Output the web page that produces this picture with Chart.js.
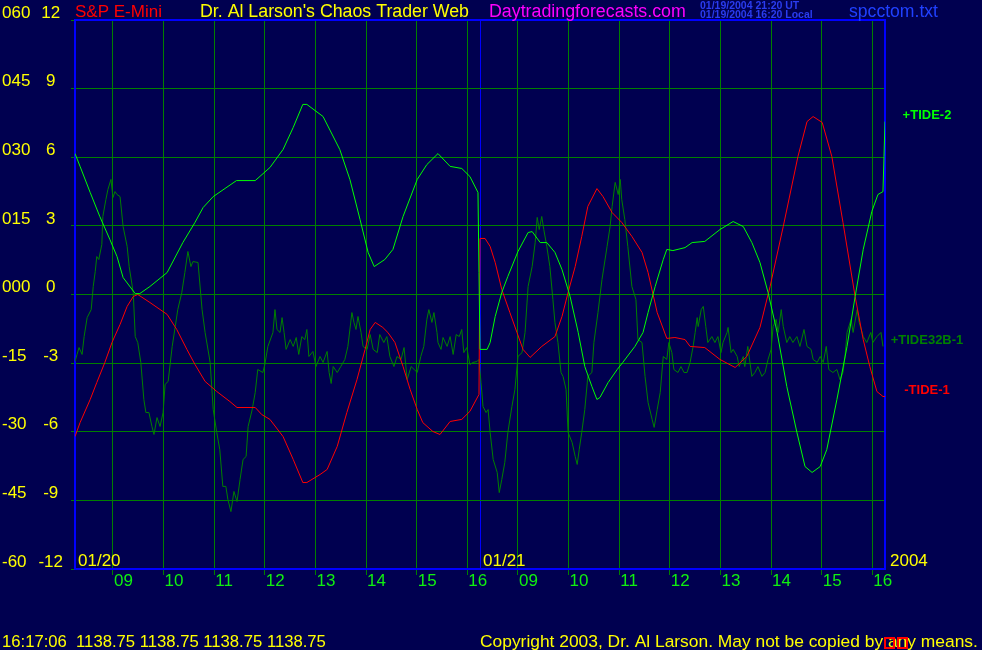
<!DOCTYPE html>
<html>
<head>
<meta charset="utf-8">
<title>S&amp;P E-Mini tides</title>
<script src="https://cdn.jsdelivr.net/npm/chart.js@4.4.0/dist/chart.umd.min.js"></script>
<style>
  html, body { margin: 0; padding: 0; background: #000050; }
  canvas { display: block; }
</style>
</head>
<body>
<canvas id="tideChart" width="982" height="650"></canvas>
<script>
// hours counted from 08:15 on 01/20 (0..8) and 01/21 (8..16)
const hourTicks = [0.75, 1.75, 2.75, 3.75, 4.75, 5.75, 6.75, 7.75, 8, 8.75, 9.75, 10.75, 11.75, 12.75, 13.75, 14.75, 15.75];
const hourLabels = ['09', '10', '11', '12', '13', '14', '15', '16', '', '09', '10', '11', '12', '13', '14', '15', '16'];
const dayStarts = [0, 8];
const dayLabels = ['01/20', '01/21'];
const yearLabel = '2004';

//] +TIDE-2
const tide2Hours = [0, 0.10, 0.30, 0.49, 0.69, 0.83, 0.95, 1.19, 1.28, 1.48, 1.82, 2.13, 2.37, 2.53, 2.73, 3.19, 3.56, 3.85, 4.11, 4.31,
  4.50, 4.58, 4.90, 5.23, 5.43, 5.63, 5.79, 5.91, 6.12, 6.28, 6.48, 6.76, 6.95, 7.17, 7.41, 7.64, 7.80, 7.96, 7.98, 8.00,
  8.14, 8.20, 8.30, 8.43, 8.55, 8.75, 8.95, 9.03, 9.19, 9.32, 9.48, 9.62, 9.78, 9.94, 10.07, 10.21, 10.31, 10.37, 10.53, 10.71,
  10.82, 11.06, 11.22, 11.32, 11.46, 11.62, 11.69, 11.81, 12.05, 12.19, 12.44, 12.74, 13.00, 13.20, 13.37, 13.53, 13.69, 13.87, 14.06, 14.26,
  14.42, 14.56, 14.72, 14.85, 15.05, 15.25, 15.41, 15.57, 15.74, 15.86, 15.96, 15.98, 16.00];
const tide2Values = [6.16, 5.60, 4.46, 3.41, 2.40, 1.66, 0.74, 0.04, 0.04, 0.35, 0.96, 2.27, 3.15, 3.80, 4.28, 4.98, 4.98, 5.55, 6.34, 7.30,
  8.31, 8.31, 7.78, 6.34, 5.03, 3.28, 1.84, 1.22, 1.53, 1.97, 3.41, 5.03, 5.68, 6.16, 5.60, 5.51, 5.16, 4.46, 0.96, -2.40,
  -2.40, -2.10, -0.96, 0.09, 0.79, 1.88, 2.71, 2.75, 2.27, 2.27, 1.84, 1.09, -0.09, -1.66, -3.15, -4.02, -4.59, -4.50, -3.85, -3.28,
  -2.97, -2.27, -1.66, -0.79, 0.35, 1.53, 1.97, 1.92, 2.05, 2.27, 2.32, 2.84, 3.19, 2.97, 2.27, 1.40, 0.09, -1.66, -4.02, -6.03,
  -7.52, -7.78, -7.52, -6.78, -4.59, -2.27, -0.09, 1.97, 3.63, 4.37, 4.50, 6.03, 7.56];

//] -TIDE-1
const tide1Hours = [0, 0.10, 0.30, 0.43, 0.59, 0.73, 0.89, 1.03, 1.15, 1.24, 1.48, 1.82, 2.01, 2.21, 2.37, 2.57, 2.80, 3.06, 3.20, 3.56,
  3.69, 3.85, 4.11, 4.31, 4.50, 4.58, 4.84, 4.98, 5.18, 5.37, 5.57, 5.73, 5.83, 5.93, 6.08, 6.18, 6.32, 6.48, 6.62, 6.76,
  6.87, 7.07, 7.21, 7.41, 7.64, 7.80, 7.98, 8.00, 8.10, 8.20, 8.30, 8.43, 8.59, 8.73, 8.85, 8.99, 9.22, 9.48, 9.62, 9.74,
  9.88, 10.01, 10.13, 10.31, 10.43, 10.61, 10.80, 11.00, 11.20, 11.32, 11.50, 11.69, 11.85, 12.05, 12.15, 12.44, 12.74, 13.04, 13.27, 13.53,
  13.73, 13.99, 14.28, 14.46, 14.58, 14.76, 14.95, 15.17, 15.41, 15.57, 15.70, 15.84, 15.96, 16.00];
const tide1Values = [-6.21, -5.60, -4.59, -3.85, -2.97, -2.10, -1.31, -0.52, -0.09, 0, -0.35, -0.87, -1.53, -2.40, -3.06, -3.80, -4.24, -4.68, -4.94, -4.94,
  -5.25, -5.46, -6.21, -7.21, -8.22, -8.22, -7.87, -7.65, -6.64, -5.16, -3.72, -2.40, -1.53, -1.22, -1.44, -1.66, -2.10, -3.15, -4.15, -5.03,
  -5.60, -5.99, -6.12, -5.55, -5.46, -5.11, -4.37, 2.45, 2.45, 2.10, 1.40, 0.22, -0.79, -1.66, -2.40, -2.75, -2.27, -1.84, -0.96, 0.09,
  1.22, 2.54, 3.85, 4.63, 4.28, 3.58, 3.15, 2.54, 1.84, 0.96, -0.79, -1.92, -1.88, -1.97, -2.27, -2.32, -2.84, -3.19, -2.71, -1.44,
  0.35, 2.97, 6.03, 7.56, 7.78, 7.52, 6.03, 3.15, -0.09, -1.97, -3.15, -4.24, -4.46, -4.46];

//] +TIDE32B-1
const tide32Hours = [0, 0.04, 0.08, 0.14, 0.18, 0.24, 0.32, 0.36, 0.40, 0.43, 0.47, 0.53, 0.55, 0.61, 0.65, 0.71, 0.75, 0.79, 0.83, 0.89,
  0.95, 1.03, 1.07, 1.15, 1.19, 1.24, 1.30, 1.36, 1.40, 1.46, 1.52, 1.56, 1.62, 1.68, 1.74, 1.78, 1.84, 1.92, 1.98, 2.03,
  2.11, 2.17, 2.23, 2.29, 2.33, 2.43, 2.51, 2.57, 2.67, 2.73, 2.80, 2.86, 2.92, 2.98, 3.02, 3.08, 3.14, 3.20, 3.26, 3.32,
  3.38, 3.42, 3.50, 3.56, 3.61, 3.71, 3.75, 3.81,
  3.91, 3.95, 3.99, 4.05, 4.09, 4.13, 4.17, 4.25, 4.31, 4.37, 4.42, 4.48, 4.54, 4.58, 4.62, 4.70, 4.76, 4.84, 4.90, 4.98,
  5.02, 5.06, 5.10, 5.18, 5.25, 5.33, 5.39, 5.47, 5.51, 5.55, 5.59, 5.65, 5.69, 5.77, 5.83, 5.89, 5.97, 6.02, 6.10, 6.16,
  6.22, 6.30, 6.36, 6.44, 6.50, 6.56, 6.64, 6.70, 6.76, 6.83, 6.89, 6.95, 6.99, 7.05, 7.09, 7.15, 7.17, 7.23, 7.27, 7.35,
  7.41, 7.47, 7.53, 7.59, 7.64, 7.68, 7.74, 7.80, 7.86, 7.94, 7.98,
  8.02, 8.06, 8.12, 8.16, 8.20, 8.26, 8.34, 8.38, 8.43, 8.49, 8.55, 8.63, 8.69, 8.75, 8.83, 8.89, 8.95, 9.03, 9.09, 9.13,
  9.17, 9.22, 9.26, 9.32, 9.38, 9.44, 9.48, 9.54, 9.60, 9.64, 9.70, 9.74, 9.82, 9.88, 9.92, 9.96, 10.01, 10.07, 10.13, 10.21,
  10.25, 10.33, 10.41, 10.51, 10.57, 10.61, 10.67, 10.73, 10.77, 10.80, 10.86, 10.92, 11.00, 11.08, 11.12, 11.20, 11.26, 11.32, 11.40, 11.44,
  11.50, 11.56, 11.62, 11.69, 11.73, 11.79, 11.83, 11.91, 11.97, 12.03,
  12.09, 12.15, 12.21, 12.25, 12.29, 12.31, 12.37, 12.41, 12.46, 12.50, 12.58, 12.64, 12.70, 12.76, 12.80, 12.88, 12.90, 12.96, 13.00, 13.08,
  13.12, 13.20, 13.23, 13.29, 13.37, 13.43, 13.49, 13.57, 13.63, 13.69, 13.75, 13.79, 13.85, 13.89, 13.95, 13.99, 14.06, 14.12, 14.18, 14.26,
  14.32, 14.40, 14.46, 14.54, 14.58, 14.66, 14.72, 14.78, 14.84, 14.89, 14.97, 15.05, 15.11, 15.17, 15.21, 15.25, 15.33, 15.37, 15.45, 15.49,
  15.57, 15.64, 15.72, 15.76, 15.84, 15.92, 15.96];
const tide32Values = [-2.93, -2.62, -2.32, -2.62, -1.84, -1.01, -0.66, 0.35, 1.01, 1.66, 1.53, 2.19, 3.41, 4.15, 4.59, 5.03, 4.24, 4.50, 4.37, 4.28,
  2.97, 2.10, 1.22, 0.09, -1.84, -2.10, -2.97, -4.59, -5.16, -5.16, -5.77, -6.12, -5.38, -5.77, -5.16, -3.93, -3.80, -2.27, -1.40, -0.66,
  0.09, 0.96, 1.88, 1.22, 1.44, 1.40, -0.66, -1.66, -2.97, -5.03, -6.03, -6.78, -8.39, -8.39, -8.96, -9.49, -8.61, -9.05, -8.09, -7.21,
  -7.08, -5.77, -5.03, -4.28, -3.28, -3.41, -3.06, -2.27,
  -1.66, -0.66, -1.53, -1.66, -1.01, -1.66, -2.40, -1.97, -2.27, -1.88, -2.62, -1.84, -1.97, -1.53, -2.71, -2.49, -3.15, -2.71, -2.97, -2.49,
  -3.41, -3.89, -3.15, -3.41, -3.15, -2.84, -2.27, -0.79, -1.22, -1.53, -0.96, -1.66, -2.27, -2.40, -1.75, -2.40, -2.54, -1.75, -2.10, -1.84,
  -2.71, -3.15, -2.71, -2.84, -2.32, -3.72, -3.15, -3.28, -3.41, -2.71, -2.27, -1.09, -0.66, -1.22, -0.79, -1.66, -2.10, -2.40, -1.88, -2.27,
  -1.84, -2.62, -1.75, -1.84, -1.53, -2.54, -2.32, -3.06, -2.97, -2.93, -2.84,
  -3.85, -4.90, -5.16, -5.03, -6.03, -7.21, -7.78, -8.66, -8.09, -7.34, -6.03, -4.90, -4.15, -2.71, -2.54, -1.66, 0.35, 1.22, 2.27, 3.37,
  2.84, 3.41, 2.84, 2.10, 1.22, -0.22, -1.22, -2.10, -3.41, -3.58, -4.15, -6.03, -6.47, -7.08, -7.43, -6.78, -6.03, -5.03, -3.58, -3.41,
  -2.10, -0.79, 0.66, 2.10, 2.97, 3.85, 4.90, 4.37, 5.03, 4.15, 3.28, 2.10, 0.35, -0.22, -1.97, -2.10, -3.58, -4.72, -5.46, -5.81,
  -5.03, -4.28, -2.71, -2.84, -2.10, -2.54, -3.28, -3.41, -3.15, -3.41,
  -3.41, -2.97, -2.27, -1.66, -1.01, -1.40, -0.66, -0.52, -1.40, -2.10, -1.84, -2.10, -1.84, -2.54, -2.10, -1.66, -1.44, -2.54, -2.40, -2.71,
  -3.15, -2.71, -3.15, -2.27, -3.58, -3.41, -3.15, -3.58, -3.41, -2.84, -2.40, -1.40, -1.09, -1.66, -0.66, -1.40, -2.10, -1.84, -2.10, -1.84,
  -2.27, -1.53, -2.27, -2.40, -2.84, -2.97, -2.71, -2.97, -2.27, -3.28, -3.41, -3.28, -3.72, -3.41, -2.71, -1.66, -1.09, -1.66, -0.66, -1.22,
  -1.84, -2.10, -1.66, -2.10, -1.84, -1.66, -2.27];

const FONT = '"Liberation Sans", Arial, sans-serif';
const GRID_GREEN = '#008000';

function toPoints(hours, values) {
  return hours.map((h, i) => ({ x: h, y: values[i] }));
}

// 글자 폭을 원본에 맞춰서 그리기
function fitText(c, text, x, y, width, size) {
  c.font = size + 'px ' + FONT;
  const w = c.measureText(text).width;
  c.font = (size * width / w).toFixed(2) + 'px ' + FONT;
  c.fillText(text, x, y);
}

const seriesList = [
  { label: '+TIDE-2', hours: tide2Hours, values: tide2Values, color: '#00ff00', order: 1 },
  { label: '-TIDE-1', hours: tide1Hours, values: tide1Values, color: '#ff0000', order: 2 },
  { label: '+TIDE32B-1', hours: tide32Hours, values: tide32Values, color: '#008000', order: 3 },
];

// 배경, 테두리, 머리글과 꼬리글
const chartDecor = {
  id: 'chartDecor',
  beforeDraw(chart) {
    const { ctx, width, height } = chart;
    ctx.save();
    ctx.fillStyle = '#000050';
    ctx.fillRect(0, 0, width, height);
    ctx.restore();
  },
  beforeDatasetsDraw(chart) {
    const { ctx, chartArea: a } = chart;
    ctx.save();
    ctx.strokeStyle = '#0000ff';
    ctx.lineWidth = 2;
    ctx.strokeRect(a.left, a.top, a.right - a.left, a.bottom - a.top);
    ctx.restore();
  },
  afterDraw(chart) {
    const { ctx, chartArea: a } = chart;
    const xs = chart.scales.x;
    const ys = chart.scales.y;
    ctx.save();
    ctx.textBaseline = 'alphabetic';
    ctx.textAlign = 'left';

    ctx.fillStyle = '#ff0000';
    fitText(ctx, 'S&P E-Mini', 75, 17, 87, 17);
    ctx.fillStyle = '#ffff00';
    fitText(ctx, "Dr. Al Larson's Chaos Trader Web", 200, 17, 269, 17);
    ctx.fillStyle = '#ff00ff';
    fitText(ctx, 'Daytradingforecasts.com', 489, 17, 197, 17);
    ctx.fillStyle = '#2040ff';
    fitText(ctx, 'spcctom.txt', 849, 17, 89, 17);

    ctx.font = 'bold 10.5px ' + FONT;
    ctx.fillStyle = '#2a3cf0';
    ctx.fillText('01/19/2004 21:20 UT', 700, 9);
    ctx.fillText('01/19/2004 16:20 Local', 700, 18);

    // day labels inside the plot
    ctx.font = '17px ' + FONT;
    ctx.fillStyle = '#ffff00';
    dayStarts.forEach((d, i) => {
      ctx.fillText(dayLabels[i], xs.getPixelForValue(d) + 3, a.bottom - 3);
    });
    ctx.fillText(yearLabel, a.right + 5, a.bottom - 3);

    // series names at the last value
    ctx.font = 'bold 13px ' + FONT;
    ctx.textAlign = 'center';
    ctx.textBaseline = 'middle';
    seriesList.forEach((s) => {
      ctx.fillStyle = s.color;
      ctx.fillText(s.label, 927, ys.getPixelForValue(s.values[s.values.length - 1]) - 6);
    });

    // status line
    ctx.textAlign = 'left';
    ctx.textBaseline = 'alphabetic';
    ctx.fillStyle = '#ffff00';
    fitText(ctx, '16:17:06  1138.75 1138.75 1138.75 1138.75', 2, 647, 324, 17);
    fitText(ctx, 'Copyright 2003, Dr. Al Larson. May not be copied by any means.', 480, 647, 498, 17);
    ctx.strokeStyle = '#ff0000';
    ctx.lineWidth = 2;
    ctx.strokeRect(885, 638, 9, 10);
    ctx.strokeRect(898, 638, 9, 10);
    ctx.restore();
  },
};

const ctx = document.getElementById('tideChart');

new Chart(ctx, {
  type: 'line',
  data: {
    datasets: seriesList.map((s) => ({
      label: s.label,
      data: toPoints(s.hours, s.values),
      borderColor: s.color,
      borderWidth: 1,
      pointRadius: 0,
      tension: 0,
      fill: false,
      order: s.order,
    })),
  },
  options: {
    responsive: false,
    devicePixelRatio: 1,
    animation: false,
    events: [],
    layout: { padding: { left: 2, right: 97, top: 20, bottom: 56 } },
    plugins: { legend: { display: false }, tooltip: { enabled: false } },
    scales: {
      x: {
        type: 'linear',
        min: 0,
        max: 16,
        afterBuildTicks: (scale) => {
          scale.ticks = hourTicks.map((v) => ({ value: v }));
        },
        afterFit: (scale) => {
          scale.height = 25;
        },
        grid: {
          color: (c) => (c.tick && c.tick.value === 8 ? '#0000ff' : GRID_GREEN),
          tickColor: (c) => (c.tick && c.tick.value === 8 ? 'rgba(0,0,0,0)' : GRID_GREEN),
          tickLength: 6,
          lineWidth: 1,
        },
        border: { display: false },
        ticks: {
          callback: (v, i) => hourLabels[i],
          color: '#10f010',
          font: { family: FONT, size: 17 },
          align: 'start',
          labelOffset: 1,
          padding: -4,
          maxRotation: 0,
          autoSkip: false,
        },
      },
      y: {
        position: 'left',
        weight: 0,
        min: -12,
        max: 12,
        afterFit: (scale) => {
          scale.width = 40;
        },
        grid: { color: GRID_GREEN, tickColor: GRID_GREEN, tickLength: 4, lineWidth: 1 },
        border: { display: false },
        ticks: {
          stepSize: 3,
          color: '#ffff00',
          font: { family: FONT, size: 17 },
          crossAlign: 'center',
          padding: 8,
          labelOffset: -7,
        },
      },
      y2: {
        position: 'left',
        weight: 1,
        min: -60,
        max: 60,
        afterFit: (scale) => {
          scale.width = 33;
        },
        grid: { display: false },
        border: { display: false },
        ticks: {
          stepSize: 15,
          callback: (v) => (v >= 0 ? String(v).padStart(3, '0') : String(v)),
          color: '#ffff00',
          font: { family: FONT, size: 17 },
          crossAlign: 'far',
          labelOffset: -7,
        },
      },
    },
  },
  plugins: [chartDecor],
});
</script>
</body>
</html>
